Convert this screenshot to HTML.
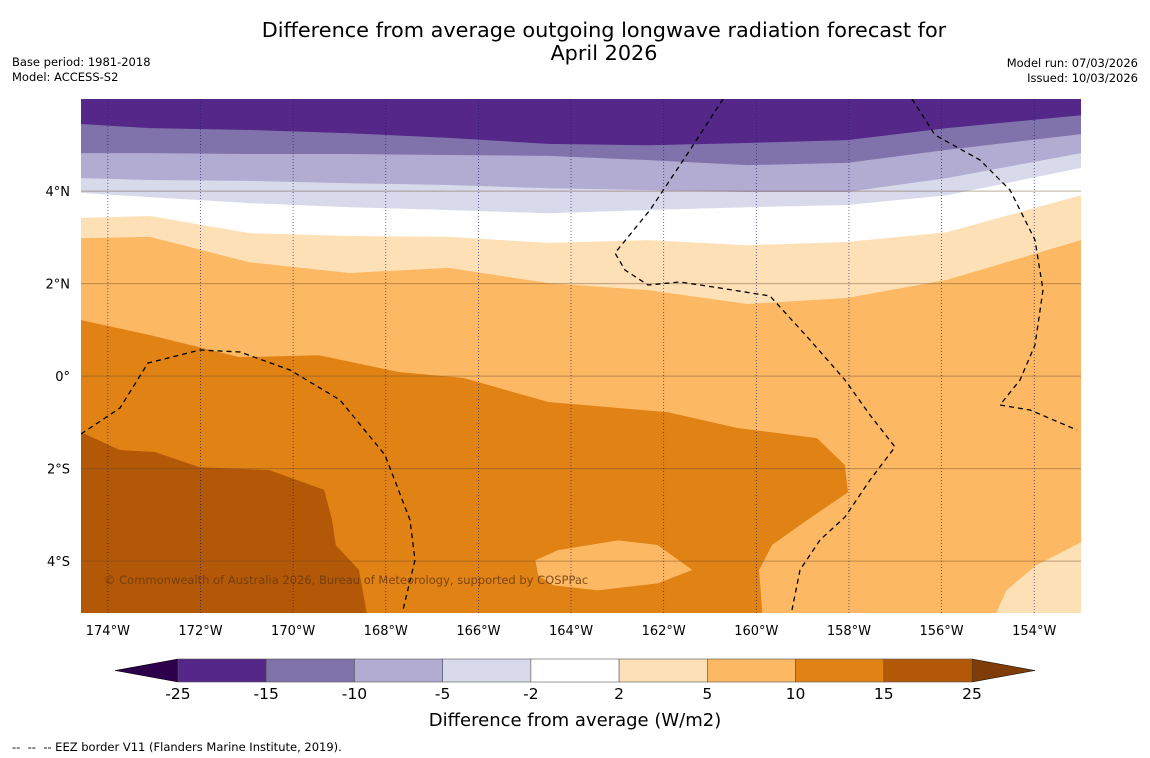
<!DOCTYPE html>
<html><head><meta charset="utf-8">
<style>
body{margin:0;background:#fff;font-family:"DejaVu Sans","Liberation Sans",sans-serif;}
#wrap{position:relative;width:1150px;height:758px;overflow:hidden;background:#fff;}
.t{position:absolute;color:#000;}
svg text{font-family:"DejaVu Sans","Liberation Sans",sans-serif;}
</style></head>
<body>
<div id="wrap">
<div class="t" style="left:0;width:1208px;top:19px;text-align:center;font-size:20.8px;line-height:23px;">Difference from average outgoing longwave radiation forecast for<br>April 2026</div>
<div class="t" style="left:12px;top:55px;font-size:11.5px;line-height:15px;">Base period: 1981-2018<br>Model: ACCESS-S2</div>
<div class="t" style="right:12px;top:56px;font-size:11.5px;line-height:15px;text-align:right;">Model run: 07/03/2026<br>Issued: 10/03/2026</div>
<div class="t" style="left:12px;top:740px;font-size:11.5px;">--&nbsp; --&nbsp; -- EEZ border V11 (Flanders Marine Institute, 2019).</div>
<svg id="svg" width="1150" height="758" style="position:absolute;left:0;top:0"></svg>
</div>
<script>
// grid longitudes (deg, west negative) for band boundaries
const gridLons=[-174.58,-173.10,-170.94,-168.79,-166.64,-164.49,-162.34,-160.19,-158.04,-155.89,-152.99];
const b1=[5.45,5.36,5.32,5.25,5.15,5.02,4.99,5.04,5.10,5.36,5.64];
const b2=[4.82,4.82,4.80,4.80,4.78,4.76,4.67,4.56,4.61,4.89,5.23];
const b3=[4.28,4.24,4.22,4.17,4.13,4.06,4.02,3.98,3.98,4.28,4.82];
const b4=[3.96,3.87,3.74,3.65,3.59,3.52,3.59,3.65,3.70,3.91,4.50];
const b5=[3.42,3.46,3.09,3.03,3.01,2.88,2.94,2.83,2.90,3.11,3.91];
const b6=[2.98,3.01,2.46,2.23,2.34,2.01,1.86,1.56,1.69,2.08,2.94];
const r10Lon=[-174.58,-173.10,-171.16,-169.44,-167.72,-166.32,-164.49,-161.91,-160.41,-158.69,-158.09,-158.02,-158.90,-159.66,-159.94,-159.87,-174.58];
const r10Lat=[1.21,0.89,0.41,0.45,0.09,-0.04,-0.56,-0.78,-1.12,-1.34,-1.92,-2.51,-3.11,-3.65,-4.19,-5.12,-5.12];
const isLon=[-164.77,-164.28,-162.99,-162.13,-161.38,-162.13,-163.42,-164.39,-164.71];
const isLat=[-3.98,-3.76,-3.55,-3.65,-4.19,-4.48,-4.63,-4.52,-4.30];
const r15Lon=[-174.58,-173.74,-172.99,-172.02,-170.52,-169.33,-169.16,-169.08,-168.58,-168.41,-174.58];
const r15Lat=[-1.21,-1.60,-1.64,-1.97,-2.03,-2.46,-3.11,-3.65,-4.19,-5.12,-5.12];
const brLon=[-154.82,-154.60,-153.96,-152.99,-152.99];
const brLat=[-5.12,-4.63,-4.09,-3.59,-5.12];
const lonTicks=[-174,-172,-170,-168,-166,-164,-162,-160,-158,-156,-154];
const latTicks=[4,2,0,-2,-4];
const cbLabels=["-25","-15","-10","-5","-2","2","5","10","15","25"];
const cbColors=["#542788","#8073ac","#b2abd2","#d8daeb","#ffffff","#fee0b6","#fdb863","#e08214","#b35806"];

const L=81,R=1081,T=99,B=613;
const lon0=-174.58,lon1=-152.99,lat0=5.99,lat1=-5.12;
const X=lon=>L+(lon-lon0)/(lon1-lon0)*(R-L);
const Y=lat=>T+(lat0-lat)/(lat0-lat1)*(B-T);
const NS="http://www.w3.org/2000/svg";
const svg=document.getElementById('svg');
function mk(tag,attrs,parent){const e=document.createElementNS(NS,tag);for(const k in attrs)e.setAttribute(k,attrs[k]);(parent||svg).appendChild(e);return e;}
const clip=mk('clipPath',{id:'pc'},mk('defs',{}));mk('rect',{x:L,y:T,width:R-L,height:B-T},clip);
const g=mk('g',{'clip-path':'url(#pc)'});
function below(arr,color,name){
  let d='M'+X(gridLons[0])+','+Y(arr[0]);
  for(let i=1;i<gridLons.length;i++)d+=' L'+X(gridLons[i])+','+Y(arr[i]);
  d+=' L'+(R+5)+','+(B+5)+' L'+(L-5)+','+(B+5)+'Z';
  const p=mk('path',{d:d,fill:color},g);
  
  
}
function poly(lons,lats,color,name){
  const pts=lons.map((l,i)=>X(l)+','+Y(lats[i])).join(' ');
  const p=mk('polygon',{points:pts,fill:color},g);
  
  
}
const bg=mk('rect',{x:L,y:T,width:R-L,height:B-T,fill:cbColors[0]},g);


below(b1,cbColors[1],'band-minus15-minus10');
below(b2,cbColors[2],'band-minus10-minus5');
below(b3,cbColors[3],'band-minus5-minus2');
below(b4,cbColors[4],'band-minus2-2');
below(b5,cbColors[5],'band-2-5');
below(b6,cbColors[6],'band-5-10');
poly(r10Lon,r10Lat,cbColors[7],'band-10-15');
poly(isLon,isLat,cbColors[6],'band-5-10-island');
poly(r15Lon,r15Lat,cbColors[8],'band-15-25');
poly(brLon,brLat,cbColors[5],'band-2-5-southeast');
// gridlines
latTicks.forEach(v=>{
  const l=mk('line',{x1:L,x2:R,y1:Y(v),y2:Y(v),stroke:'#6b4a2a','stroke-opacity':0.45,'stroke-width':1},g);
  
  
  const t=mk('text',{x:L-11,y:Y(v)+5,'text-anchor':'end','font-size':13,fill:'#000'});
  t.textContent=v===0?'0°':(Math.abs(v)+'°'+(v>0?'N':'S'));
  
  
});
lonTicks.forEach(v=>{
  const l=mk('line',{x1:X(v),x2:X(v),y1:T,y2:B,stroke:'#1a1a6e','stroke-width':0.8,'stroke-dasharray':'1,2','stroke-opacity':0.8},g);
  
  
  const t=mk('text',{x:X(v),y:B+22,'text-anchor':'middle','font-size':13,fill:'#000'});
  t.textContent=Math.abs(v)+'°W';
  
  
});
// EEZ borders (geographic decoration)
const eez=[
 "M81,434 L120,408 L148,363 L200,350 L240,352 L290,370 L340,400 L385,455 L410,520 L415,560 L403,610",
 "M723,99 L690,150 L650,210 L615,253 L625,270 L648,285 L680,282 L720,288 L770,296 L810,340 L845,380 L870,415 L895,447 L870,480 L845,517 L820,540 L800,570 L792,610",
 "M912,99 L935,135 L980,160 L1010,190 L1035,240 L1043,290 L1035,345 L1020,380 L1000,405 L1030,410 L1077,430"];
eez.forEach(d=>{const p=mk('path',{d:d,fill:'none',stroke:'#000','stroke-width':1.3,'stroke-dasharray':'5,4'},g);
  
  });
const ct=mk('text',{x:104,y:584,'font-size':11.5,fill:'#6b3a10','fill-opacity':0.85});
ct.textContent='© Commonwealth of Australia 2026, Bureau of Meteorology, supported by COSPPac';


// colorbar
const cx0=178,cx1=972,cy0=659,cy1=682,w=(cx1-cx0)/cbColors.length;
const lt=mk('polygon',{points:`115,670.5 ${cx0},${cy0} ${cx0},${cy1}`,fill:'#2d004b',stroke:'#000','stroke-width':0.5});


const rt=mk('polygon',{points:`1035,670.5 ${cx1},${cy0} ${cx1},${cy1}`,fill:'#7f3b08',stroke:'#000','stroke-width':0.5});


cbColors.forEach((c,i)=>{
  const r=mk('rect',{x:cx0+i*w,y:cy0,width:w,height:cy1-cy0,fill:c,stroke:'#555','stroke-width':0.6});
  
  
});
cbLabels.forEach((s,i)=>{
  const t=mk('text',{x:cx0+i*w,y:699,'text-anchor':'middle','font-size':15.5,fill:'#000'});
  t.textContent=s;
  
  
});
const ttl=mk('text',{x:575,y:726,'text-anchor':'middle','font-size':18,fill:'#000'});
ttl.textContent='Difference from average (W/m2)';


</script>
</body></html>
